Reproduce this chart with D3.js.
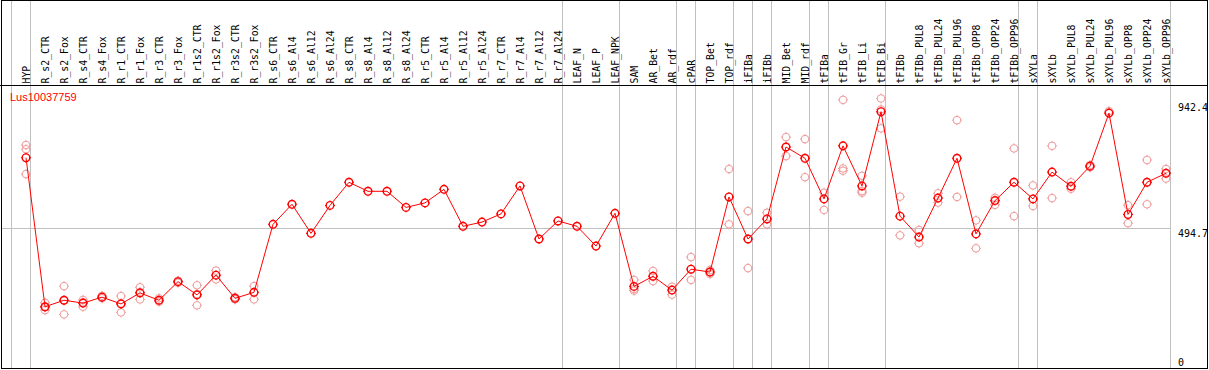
<!DOCTYPE html>
<html>
<head>
<meta charset="utf-8">
<script src="https://cdn.jsdelivr.net/npm/d3@7"></script>
<style>
  body { margin: 0; background: #fff; }
  svg { display: block; }
</style>
</head>
<body>
<div id="chart"></div>
<script>
(function() {
    "use strict";

    var geneName = "Lus10037759";

    var labels = ["HYP", "R_s2_CTR", "R_s2_Fox", "R_s4_CTR", "R_s4_Fox", "R_r1_CTR", "R_r1_Fox",
        "R_r3_CTR", "R_r3_Fox", "R_r1s2_CTR", "R_r1s2_Fox", "R_r3s2_CTR", "R_r3s2_Fox",
        "R_s6_CTR", "R_s6_Al4", "R_s6_Al12", "R_s6_Al24", "R_s8_CTR", "R_s8_Al4", "R_s8_Al12",
        "R_s8_Al24", "R_r5_CTR", "R_r5_Al4", "R_r5_Al12", "R_r5_Al24", "R_r7_CTR", "R_r7_Al4",
        "R_r7_Al12", "R_r7_Al24", "LEAF_N", "LEAF_P", "LEAF_NPK", "SAM", "AR_Bet", "AR_rdf",
        "cPAR", "TOP_Bet", "TOP_rdf", "iFIBa", "iFIBb", "MID_Bet", "MID_rdf", "tFIBa",
        "tFIB_Gr", "tFIB_Li", "tFIB_Bi", "tFIBb", "tFIBb_PUL8", "tFIBb_PUL24", "tFIBb_PUL96",
        "tFIBb_OPP8", "tFIBb_OPP24", "tFIBb_OPP96", "sXYLa", "sXYLb", "sXYLb_PUL8",
        "sXYLb_PUL24", "sXYLb_PUL96", "sXYLb_OPP8", "sXYLb_OPP24", "sXYLb_OPP96"];

    // mean expression per sample
    var means = [745, 217, 240, 230, 251, 227, 266, 240, 306, 259, 329, 247, 268,
        509, 580, 477, 576, 658, 626, 626, 569, 585, 633, 502, 517, 546, 645, 457, 521,
        502, 432, 548, 289, 325, 276, 350, 340, 606, 457, 528, 783, 743, 599,
        787, 645, 908, 538, 464, 602, 743, 475, 593, 658, 599, 694, 644, 715, 903,
        544, 658, 690];

    // individual replicates
    var replicates = [[790, 775, 687], [231, 205, 215], [290, 190, 240], [241, 217, 232],
        [256, 247], [255, 197, 229], [286, 243, 269], [247, 235], [309, 302],
        [293, 222, 262], [345, 314], [251, 243], [290, 243],
        [], [], [], [], [], [], [], [], [], [], [], [], [], [], [], [], [], [], [],
        [312, 280, 274], [344, 308], [288, 260], [393, 312], [347, 333], [705, 509],
        [556, 354], [550, 509], [818, 751], [811, 676], [621, 560], [950, 707, 699],
        [681, 627, 621], [955, 916, 849], [607, 470], [489, 442], [619, 586], [878, 606],
        [523, 424], [603, 578], [778, 538], [647, 574], [787, 602], [658, 635],
        [719, 711], [910], [577, 513], [737, 580], [705, 671]];

    // a grey separator is drawn after each of these samples
    var groupEnds = ["HYP", "R_r7_Al24", "LEAF_NPK", "AR_rdf", "cPAR", "TOP_rdf", "iFIBa",
        "iFIBb", "MID_rdf", "tFIBa", "tFIB_Bi", "tFIBb_OPP96", "sXYLa", "sXYLb_OPP96"];

    var yTicks = [942.4, 494.7, 0];

    var w = 1209, h = 370,
        headerY = 85.5,
        bottom = 368,
        red = "#ff0000",
        pink = "#ef9a9a",
        grey = "#c0c0c0";

    var x = d3.scalePoint().domain(labels).range([26, 1166]),
        step = x.step(),
        y = d3.scaleLinear().domain([0, 942.4]).range([bottom, 102]);

    var svg = d3.select("#chart").append("svg")
        .attr("width", w)
        .attr("height", h);

    // separators
    var sepX = [x(labels[0]) + 4.5 - step].concat(groupEnds.map(function(d) { return x(d) + 4.5; }));
    svg.append("g").selectAll("line")
        .data(sepX)
        .enter().append("line")
        .attr("x1", function(d) { return d; })
        .attr("x2", function(d) { return d; })
        .attr("y1", 0)
        .attr("y2", bottom)
        .attr("stroke", grey);

    svg.append("line")
        .attr("x1", 1).attr("x2", x(labels[labels.length - 1]) + 4.5)
        .attr("y1", Math.round(y(494.7)) + 0.5).attr("y2", Math.round(y(494.7)) + 0.5)
        .attr("stroke", grey);

    // header labels
    svg.append("g").selectAll("text")
        .data(labels)
        .enter().append("text")
        .attr("transform", function(d) { return "translate(" + (x(d) + 3.5) + ",83.5) rotate(-90)"; })
        .style("font", "9.8px 'DejaVu Sans Mono'")
        .attr("fill", "#000")
        .text(function(d) { return d; });

    svg.append("line")
        .attr("x1", 0).attr("x2", 1208)
        .attr("y1", headerY).attr("y2", headerY)
        .attr("stroke", "#000");

    svg.append("text")
        .attr("x", 10).attr("y", 100.5)
        .attr("fill", red)
        .style("font", "11px 'Liberation Sans'")
        .text(geneName);

    // right axis
    var axis = d3.axisRight(y)
        .tickValues(yTicks)
        .tickSize(0)
        .tickPadding(0)
        .tickFormat(function(d) { return d === 0 ? "0" : d3.format(".1f")(d); });

    var ax = svg.append("g")
        .attr("transform", "translate(1178,0)")
        .call(axis);
    ax.select(".domain").remove();
    ax.selectAll("text")
        .attr("fill", "#000")
        .style("font", "10px 'DejaVu Sans Mono'")
        .attr("dy", function(d) { return d === 0 ? "-0.25em" : "0.85em"; });

    function marker(g, color, width) {
        g.append("circle")
            .attr("r", 3.8)
            .attr("fill", "none")
            .attr("stroke", color)
            .attr("stroke-width", width);
        g.append("path")
            .attr("d", "M0,-5V-3.8M0,3.8V5M-5,0H-3.8M3.8,0H5")
            .attr("stroke", color)
            .attr("stroke-width", 1);
    }

    // replicates
    var reps = [];
    replicates.forEach(function(r, i) {
        r.forEach(function(v) { reps.push({ label: labels[i], value: v }); });
    });
    svg.append("g").selectAll("g")
        .data(reps)
        .enter().append("g")
        .attr("transform", function(d) { return "translate(" + x(d.label) + "," + y(d.value) + ")"; })
        .each(function() { marker(d3.select(this), pink, 1); });

    // mean line
    var line = d3.line()
        .x(function(d, i) { return x(labels[i]); })
        .y(function(d) { return y(d); });

    svg.append("path")
        .datum(means)
        .attr("d", line)
        .attr("fill", "none")
        .attr("stroke", red)
        .attr("stroke-width", 1);

    svg.append("g").selectAll("g")
        .data(means)
        .enter().append("g")
        .attr("transform", function(d, i) { return "translate(" + x(labels[i]) + "," + y(d) + ")"; })
        .each(function() { marker(d3.select(this), red, 1.4); });

    // frame
    svg.append("rect")
        .attr("x", 1.5).attr("y", 0.5)
        .attr("width", 1206).attr("height", bottom)
        .attr("fill", "none")
        .attr("stroke", "#000");
}());
</script>
</body>
</html>
